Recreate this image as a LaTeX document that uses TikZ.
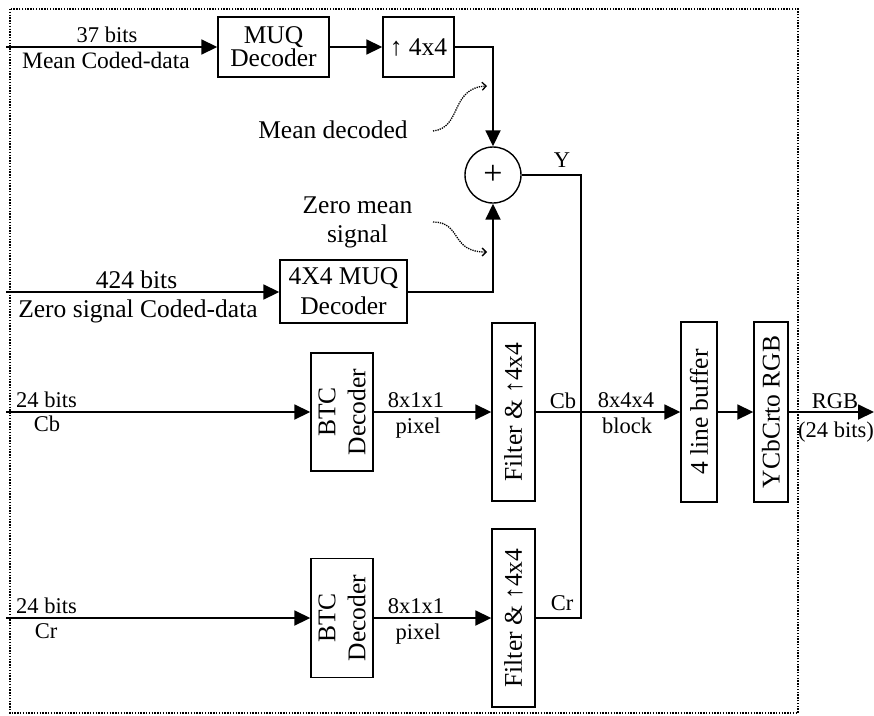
\documentclass[tikz,border=0pt]{standalone}
\usepackage{fontspec}
\setmainfont{Liberation Serif}
\usetikzlibrary{arrows.meta}
\begin{document}
\begin{tikzpicture}[x=1pt,y=-1pt,
  box/.style={draw, line width=1.4pt, inner sep=0pt, align=center, font=\fontsize{25.5}{30}\selectfont},
  rtext/.style={rotate=90, inner sep=0pt, align=center, font=\fontsize{25.5}{30}\selectfont},
  lbl/.style={inner sep=0pt, anchor=base, font=\fontsize{22.5}{26}\selectfont},
  big/.style={inner sep=0pt, anchor=base, font=\fontsize{25.5}{29}\selectfont},
  wire/.style={line width=1.6pt},
  arr/.style={line width=1.8pt, -{Triangle[length=16pt,width=15pt]}},
  hint/.style={line width=1.3pt, densely dotted, -{Straight Barb[length=4pt,width=8pt]}}
]
\useasboundingbox (0,0) rectangle (874,715);
\draw[line width=1.4pt, dash pattern=on 1.4pt off 1.4pt] (10,9) rectangle (798,713);

% blocks
\node[box, font=\fontsize{25.5}{23}\selectfont, minimum width=111pt, minimum height=60pt] (muq) at (273.5,47) {MUQ\\Decoder};
\node[box, minimum width=71pt, minimum height=60pt] (up) at (418.5,47) {↑ 4x4};
\node[box, circle, minimum size=56pt, font=\fontsize{34}{34}\selectfont] (sum) at (493,175) {+};
\node[box, minimum width=127pt, minimum height=63pt] (dec2) at (343.5,291.5) {4X4 MUQ\\Decoder};

\node[box, minimum width=62pt, minimum height=118pt] (btcb) at (342,412) {};
\node[rtext] (btcbt) at (btcb.center) {BTC\\Decoder};
\node[box, minimum width=43pt, minimum height=178pt] (fcb) at (513.5,412) {};
\node[rtext] (fcbt) at (fcb.center) {Filter \& ↑4x4};

\node[box, minimum width=62pt, minimum height=119pt] (btcr) at (342,618) {};
\node[rtext] (btcrt) at (btcr.center) {BTC\\Decoder};
\node[box, minimum width=43pt, minimum height=178pt] (fcr) at (513.5,618) {};
\node[rtext] (fcrt) at (fcr.center) {Filter \& ↑4x4};

\node[box, minimum width=36pt, minimum height=180pt] (buf) at (699,412) {};
\node[rtext] (buft) at (buf.center) {4 line buffer};
\node[box, minimum width=34pt, minimum height=180pt] (ycc) at (771,412) {};
\node[rtext] (ycct) at (ycc.center) {YCbCrto RGB};

% free ends
\coordinate (inm) at (6,47);
\coordinate (inz) at (6,292);
\coordinate (inb) at (6,412);
\coordinate (inr) at (6,618);
\coordinate (outp) at (874,412);
\coordinate (ycorner) at (581,175);
\coordinate (crcorner) at (581,618);
\coordinate (h1s) at (433,131);
\coordinate (h1e) at (487,86);
\coordinate (h2s) at (433,222);
\coordinate (h2e) at (487,252);

% connectors
\draw[arr] (inm) -- (muq.west);
\draw[arr] (muq.east) -- (up.west);
\draw[arr] (up.east) -| (sum.north);
\draw[arr] (inz) -- (dec2.west |- inz);
\draw[arr] (dec2.east |- inz) -| (sum.south);
\draw[wire] (sum.east) -- (ycorner) -- (crcorner) -- (fcr.east);
\draw[arr] (inb) -- (btcb.west);
\draw[arr] (btcb.east) -- (fcb.west);
\draw[arr] (fcb.east) -- (buf.west);
\draw[arr] (buf.east) -- (ycc.west);
\draw[arr] (ycc.east) -- (outp);
\draw[arr] (inr) -- (btcr.west);
\draw[arr] (btcr.east) -- (fcr.west);

\draw[hint] (h1s) .. controls (462,128) and (450,88) .. (h1e);
\draw[hint] (h2s) .. controls (462,222) and (450,252) .. (h2e);

% labels
\node[lbl] (l37) at (107,42) {37 bits};
\node[lbl, font=\fontsize{23.5}{26}\selectfont] (lmcd) at (106,68) {Mean Coded-data};
\node[big] (lmd) at (333,138) {Mean decoded};
\node[lbl] (ly) at (562,167) {Y};
\node[big] (lzm1) at (357.5,213) {Zero mean};
\node[big] (lzm2) at (357.5,242) {signal};
\node[big] (l424) at (136.5,288) {424 bits};
\node[big] (lzscd) at (138,317) {Zero signal Coded-data};

\node[lbl, anchor=base west] (l24b) at (16,407) {24 bits};
\node[lbl] (lcbin) at (47,431) {Cb};
\node[lbl] (l811b) at (416,407) {8x1x1};
\node[lbl] (lpixb) at (418,433) {pixel};
\node[lbl] (lcb) at (563,408) {Cb};
\node[lbl] (l844) at (626,407) {8x4x4};
\node[lbl] (lblk) at (627,433) {block};
\node[lbl] (lrgb) at (835,408) {RGB};
\node[lbl] (l24o) at (836,437) {(24 bits)};

\node[lbl, anchor=base west] (l24r) at (16,613) {24 bits};
\node[lbl] (lcrin) at (46,638) {Cr};
\node[lbl] (l811r) at (416,613) {8x1x1};
\node[lbl] (lpixr) at (418,639) {pixel};
\node[lbl] (lcr) at (562,610) {Cr};
\end{tikzpicture}
\end{document}
